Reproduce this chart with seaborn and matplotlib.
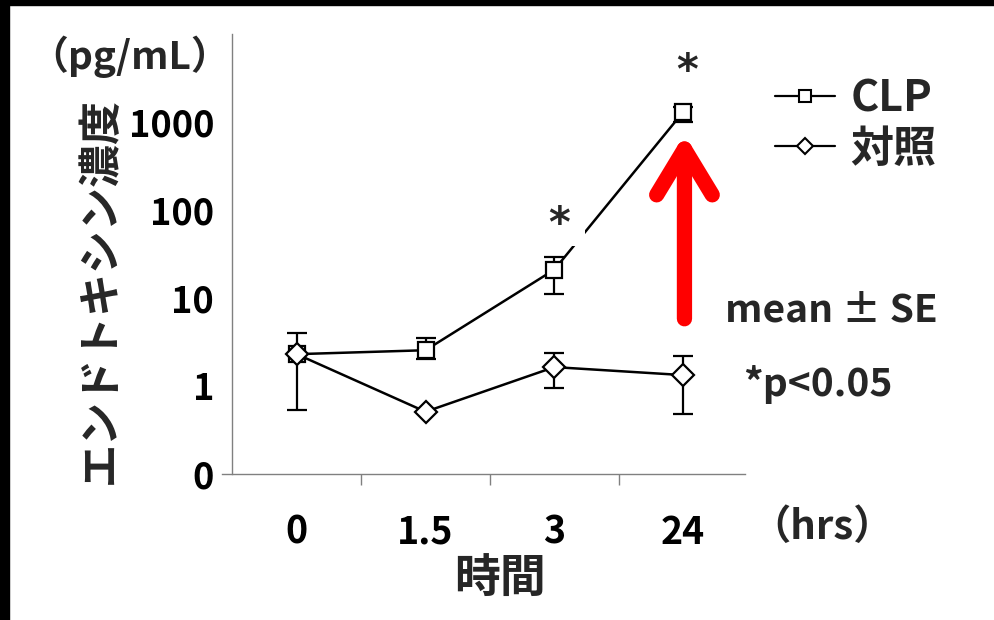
import numpy as np
import pandas as pd
import matplotlib
matplotlib.use("Agg")
import matplotlib.pyplot as plt
import seaborn as sns
from matplotlib.lines import Line2D
from matplotlib.patches import Rectangle
from matplotlib.ticker import NullLocator, FixedLocator

# Data
time_labels = ["0", "1.5", "3", "24"]
groups = ["CLP", "対照"]

clp_mean = [2.3, 2.55, 21, 1300]
clp_low = [2.3, 2.05, 11, 1000]
clp_high = [2.3, 3.5, 29, 1500]

ctrl_mean = [2.3, 0.51, 1.64, 1.33]
ctrl_low = [0.53, 0.51, 0.95, 0.48]
ctrl_high = [4.0, 0.51, 2.36, 2.18]

y_ticks = [0.1, 1, 10, 100, 1000]
y_tick_labels = ["0", "1", "10", "100", "1000"]

# Long table for seaborn
pos = np.arange(len(time_labels))
df = pd.DataFrame({
    "pos": np.concatenate([pos, pos]),
    "value": clp_mean + ctrl_mean,
    "group": [groups[0]] * len(pos) + [groups[1]] * len(pos),
})

sns.set_theme(style="white")
plt.rcParams["font.family"] = ["Noto Sans CJK JP", "DejaVu Sans"]
plt.rcParams["font.weight"] = "bold"

fig = plt.figure(figsize=(9.95, 6.2), dpi=100)
ax = fig.add_axes([222 / 995, 1 - 474 / 620, (745 - 222) / 995, (474 - 34) / 620])

# error bars
for mean, lo, hi in [(clp_mean, clp_low, clp_high), (ctrl_mean, ctrl_low, ctrl_high)]:
    m = np.array(mean)
    ax.errorbar(pos, m, yerr=[m - np.array(lo), np.array(hi) - m], fmt="none",
                ecolor="black", elinewidth=1.6, capsize=7, capthick=1.6, zorder=2)

sns.lineplot(data=df, x="pos", y="value", hue="group", style="group",
             markers={"CLP": "s", "対照": "D"}, dashes=False,
             palette={"CLP": "black", "対照": "black"}, estimator=None,
             markersize=11, markerfacecolor="white", markeredgecolor="black",
             markeredgewidth=1.6, linewidth=1.8, legend=False, ax=ax, zorder=3)

ax.set_yscale("log")
ax.set_ylim(0.1, 1e4)
ax.set_xlim(-0.58, 3.48)
ax.yaxis.set_major_locator(FixedLocator(y_ticks))
ax.set_yticklabels(y_tick_labels)
ax.yaxis.set_minor_locator(NullLocator())
ax.set_xticks(pos)
ax.set_xticklabels(time_labels)
ax.xaxis.set_minor_locator(FixedLocator(pos[:-1] + 0.5))
ax.set_xlabel("")
ax.set_ylabel("")

for s in ["top", "right"]:
    ax.spines[s].set_visible(False)
for s in ["left", "bottom"]:
    ax.spines[s].set_color("#808080")
    ax.spines[s].set_linewidth(1.0)
ax.spines["left"].set_position(("data", -0.5))

ax.tick_params(axis="y", which="major", direction="out", length=5, width=1,
               color="#808080", pad=8, labelsize=26, labelcolor="black")
ax.tick_params(axis="x", which="major", length=0, pad=28, labelsize=27, labelcolor="black")
ax.tick_params(axis="x", which="minor", direction="out", length=8, width=1,
               color="#808080", bottom=True)
for lab in ax.get_xticklabels() + ax.get_yticklabels():
    lab.set_fontweight("bold")

# significance marks (white box under the first one cuts the line, as in the original)
ax.text(1.96, 68, "* ", ha="left", va="center", fontsize=30, fontweight="bold",
        family="DejaVu Sans", zorder=3.5,
        bbox=dict(boxstyle="square,pad=0", fc="white", ec="none"))
ax.text(3.03, 3700, "*", ha="center", va="center", fontsize=30, fontweight="bold",
        family="DejaVu Sans")

# red arrow
ax.annotate("", xy=(3.01, 780), xytext=(3.01, 5.4),
            arrowprops=dict(arrowstyle="->,head_length=0.33,head_width=0.2",
                            mutation_scale=100, lw=11, color="#ff0000",
                            capstyle="round", joinstyle="round"), zorder=4)

# legend
handles = [
    Line2D([], [], color="black", marker="s", mfc="white", mec="black", ms=9, mew=1.5, lw=1.6),
    Line2D([], [], color="black", marker="D", mfc="white", mec="black", ms=8, mew=1.5, lw=1.6),
]
fig.legend(handles, groups, loc="upper left", bbox_to_anchor=(775 / 995, 1 - 76 / 620),
           frameon=False, handlelength=1.4, handletextpad=0.35,
           labelspacing=0.15, borderpad=0, borderaxespad=0,
           prop={"size": 31, "weight": "bold"})

# other text
fig.text(130 / 995, 1 - 57 / 620, "（pg/mL）", ha="center", va="center", fontsize=28, fontweight="bold")
fig.text(100 / 995, 1 - 290 / 620, "エンドトキシン濃度", ha="center", va="center",
         rotation=90, fontsize=31, fontweight="bold")
fig.text(822 / 995, 1 - 527 / 620, "（hrs）", ha="center", va="center", fontsize=29, fontweight="bold")
fig.text(500 / 995, 1 - 580 / 620, "時間", ha="center", va="center", fontsize=33, fontweight="bold")
fig.text(831 / 995, 1 - 310 / 620, "mean ± SE", ha="center", va="center", fontsize=28, fontweight="bold")
fig.text(818 / 995, 1 - 385 / 620, "*p<0.05", ha="center", va="center", fontsize=28, fontweight="bold")

# black frame strips
fig.add_artist(Rectangle((0, 1 - 5 / 620), 1, 5 / 620, transform=fig.transFigure,
                         color="black", zorder=10))
fig.add_artist(Rectangle((0, 0), 9 / 995, 1, transform=fig.transFigure,
                         color="black", zorder=10))

fig.savefig("out.png", dpi=100)
